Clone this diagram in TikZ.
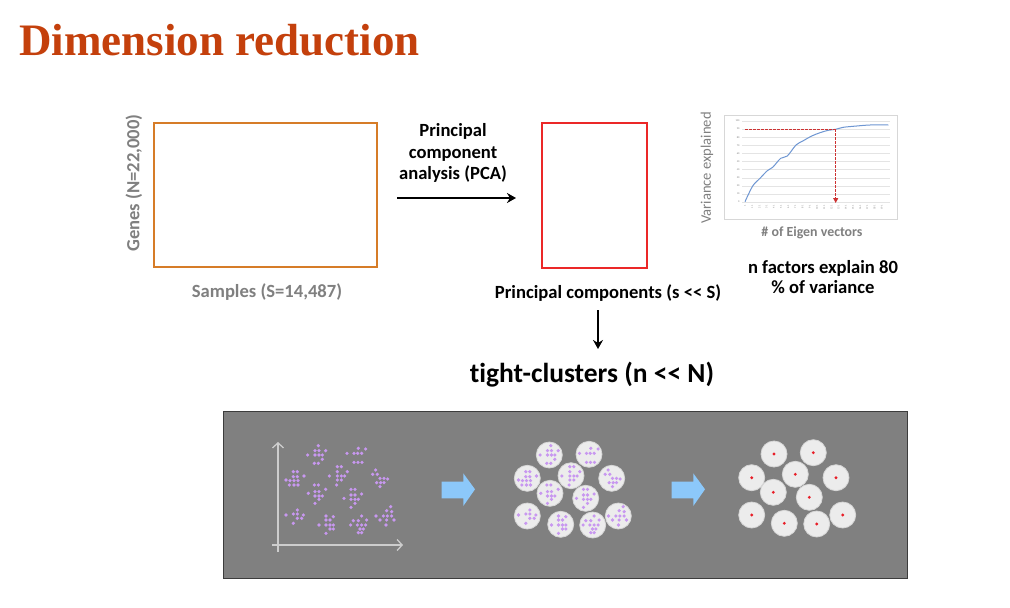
\documentclass[tikz,border=0pt]{standalone}
\usepackage{fontspec}
\setmainfont{Carlito}[Ligatures=NoCommon]
\newfontfamily\titlefont{Liberation Serif}
\usetikzlibrary{arrows.meta}
\definecolor{titlec}{RGB}{196,64,12}
\definecolor{orangec}{RGB}{214,124,40}
\definecolor{redc}{RGB}{235,40,40}
\definecolor{greytxt}{RGB}{128,128,128}
\definecolor{panel}{RGB}{128,128,128}
\definecolor{panelb}{RGB}{60,60,60}
\definecolor{axisc}{RGB}{205,205,205}
\definecolor{dotc}{RGB}{200,152,240}
\definecolor{circf}{RGB}{236,236,236}
\definecolor{circd}{RGB}{214,214,214}
\definecolor{bluearr}{RGB}{140,200,250}
\definecolor{curvec}{RGB}{110,150,210}
\definecolor{dashred}{RGB}{205,50,50}
\definecolor{framec}{RGB}{215,215,215}
\definecolor{gridc}{RGB}{228,228,228}
\definecolor{reddot}{RGB}{232,30,40}
\newcommand\mydots{295/107, 285/122, 297/122, 317/122, 263/135, 285/135, 297/135, 307/135, 307/148, 283/160, 295/160,
415/115, 437/117, 381/130, 402/130, 413/130, 425/130, 402/157, 414/157, 426/157,
220/185, 232/185, 198/210, 220/200, 232/200, 252/198, 210/212, 222/212, 234/212, 222/225, 234/225, 208/225,
352/170, 364/170, 382/185, 328/198, 352/185, 352/198, 364/198, 374/198, 352/210, 364/210, 350/225,
467/180, 458/193, 472/193, 480/205, 492/205, 503/207, 470/218, 482/218, 492/218, 480/230,
283/225, 295/225, 265/250, 285/245, 297/245, 317/238, 285/258, 297/258, 307/258, 297/268, 285/280,
393/238, 405/238, 372/265, 393/255, 405/255, 425/252, 393/268, 405/268, 415/268, 405/280, 393/292,
232/300, 220/312, 232/312, 198/315, 250/315, 232/325, 245/325, 220/340,
318/318, 340/320, 318/330, 330/330, 297/345, 318/345, 330/345, 340/345, 330/357, 340/357, 318/370,
425/318, 400/332, 415/332, 440/330, 392/345, 412/345, 425/345, 437/345, 420/357, 430/357, 415/368, 425/368,
512/290, 500/302, 515/305, 468/318, 490/318, 502/318, 515/318, 480/330, 500/330, 522/330, 498/345}
\newcommand\midcircles{549.3/455, 589/454.3, 527.3/478.3, 571/475.7, 611.7/478.3, 550/493.3, 585.7/498.3, 527.3/516, 560.7/524.3, 592.7/525, 618.3/516}
\newcommand\rightcircles{774/454, 813.3/452.7, 751.7/477.7, 795.3/474.3, 836/477.7, 773.3/492.3, 809.3/497.3, 751.7/515, 784.3/523.3, 816.7/524, 842.7/515}
\tikzset{
  bodytext/.style={font=\bfseries\fontsize{18.6}{21.5}\selectfont, inner sep=0pt, align=center},
  greytext/.style={bodytext, text=greytxt},
  blackarrow/.style={-{Stealth[length=9pt,width=10pt]}, line width=1.6pt},
  matrixbox/.style={draw, line width=2pt, inner sep=0pt},
  clusterdot/.style={fill=dotc},
  clustercircle/.style={fill=circf, draw=circd, line width=0.8pt},
  bluearrow/.style={fill=bluearr},
  tinylabel/.style={font=\fontsize{2.6}{3}\selectfont, text=greytxt, inner sep=0.3pt}
}
\begin{document}
\begin{tikzpicture}[x=1pt,y=-1pt]
\useasboundingbox[fill=white] (0,0) rectangle (1010,608);

% title
\node[anchor=base west, inner sep=0pt, font=\titlefont\bfseries\fontsize{45}{45}\selectfont, text=titlec] (title) at (19,55) {Dimension reduction};

% data matrix
\node[matrixbox, draw=orangec, minimum width=223pt, minimum height=144pt] (datamat) at (265.5,195) {};
\node[greytext, rotate=90] (genes) at (134,183) {Genes (N=22,000)};
\node[greytext] (samples) at (267,292) {Samples (S=14,487)};

% PCA
\node[bodytext] (pcatext) at (453,153) {Principal\\component\\analysis (PCA)};
\coordinate (pcaS) at (397,198);
\coordinate (pcaE) at (516,198);
\draw[blackarrow] (pcaS) -- (pcaE);

\node[matrixbox, draw=redc, minimum width=105pt, minimum height=145pt] (pcbox) at (594.5,195.5) {};
\node[bodytext] (pclabel) at (608,293) {Principal components (s {<}{<} S)};
\coordinate (downS) at (598,310);
\coordinate (downE) at (598,349);
\draw[blackarrow] (downS) -- (downE);
\node[bodytext, font=\bfseries\fontsize{27.5}{30}\selectfont] (tight) at (592,375) {tight-clusters (n {<}{<} N)};

% chart
\node[draw=framec, line width=0.6pt, fill=white, minimum width=173pt, minimum height=104pt, inner sep=0pt] (chart) at (810.5,167) {};
\foreach \v in {0,10,...,100} {
  \draw[gridc, line width=0.4pt] (742,{202-0.81*\v}) -- (890,{202-0.81*\v});
  \node[tinylabel, anchor=east] at (740,{202-0.81*\v}) {\v};
}
\foreach \i in {0,...,19} {
  \pgfmathtruncatemacro\lab{1+10*\i}
  \node[tinylabel, rotate=90, anchor=east] at ({745+7.2*\i},205) {\lab};
}
\draw[curvec, line width=1pt] plot[smooth, tension=0.5] coordinates {(745,201.7) (752.7,186) (760,178.3) (767.3,170.7) (772.7,167.3) (780.7,158.3) (787.3,156) (796,145) (803.3,140.7) (811.7,136) (820,132.7) (828.3,130.3) (835.7,129.3) (843.3,127.3) (856.7,126) (870,125) (888.3,125)};
\coordinate (dashA) at (745,129.3);
\coordinate (dashB) at (835.7,129.3);
\coordinate (dashC) at (835.7,203);
\draw[dashred, line width=0.9pt, dash pattern=on 2.5pt off 1.5pt] (dashA) -- (dashB);
\draw[dashred, line width=0.9pt, dash pattern=on 2.5pt off 1.5pt, -{Triangle[length=5pt,width=5pt]}] (dashB) -- (dashC);
\node[font=\fontsize{14.6}{15}\selectfont, text=greytxt, rotate=90, inner sep=0pt] (varexp) at (707,168) {Variance explained};
\node[greytext, font=\bfseries\fontsize{13.9}{14}\selectfont] (eigen) at (812,233) {\# of Eigen vectors};
\node[bodytext, font=\bfseries\fontsize{18.6}{20}\selectfont] (nfactors) at (823,277) {n factors explain 80\\\% of variance};

% bottom panel
\node[fill=panel, draw=panelb, line width=1pt, minimum width=684pt, minimum height=167pt, inner sep=0pt] (panel) at (565,494.5) {};
\coordinate (origY) at (278,552);
\coordinate (topY) at (278,442);
\coordinate (origX) at (272,545);
\coordinate (endX) at (403,545);
\draw[axisc, line width=1.3pt, -{Straight Barb[length=5pt,width=11pt]}] (origY) -- (topY);
\draw[axisc, line width=1.3pt, -{Straight Barb[length=5pt,width=11pt]}] (origX) -- (endX);
\begin{scope}[shift={(220,410)}, x=0.33333pt, y=-0.33333pt]
  \foreach \a/\b in \mydots { \fill[clusterdot] (\a,\b) circle (1.8pt); }
\end{scope}

% blue arrows
\fill[bluearrow] (441.7,481.7) -- (463.3,481.7) -- (463.3,473.3) -- (475,489.3) -- (463.3,506) -- (463.3,498.3) -- (441.7,498.3) -- cycle;
\fill[bluearrow] (671.7,481.7) -- (693.3,481.7) -- (693.3,473.3) -- (705,489.3) -- (693.3,506) -- (693.3,498.3) -- (671.7,498.3) -- cycle;

% middle circles with clusters
\foreach \a/\b in \midcircles { \filldraw[clustercircle] (\a,\b) circle (13pt); }
\begin{scope}[shift={(452.5,410)}, x=0.33333pt, y=-0.33333pt]
  \foreach \a/\b in \mydots { \fill[clusterdot] (\a,\b) circle (1.8pt); }
\end{scope}

% right circles with centroids
\foreach \a/\b in \rightcircles {
  \filldraw[clustercircle] (\a,\b) circle (13pt);
  \fill[reddot] (\a,\b) circle (1.6pt);
}
\end{tikzpicture}
\end{document}
